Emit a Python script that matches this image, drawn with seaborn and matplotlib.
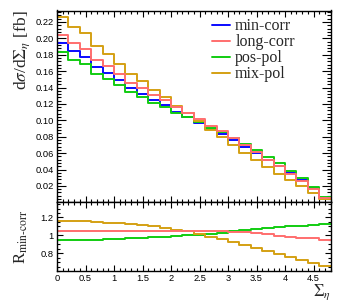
import numpy as np
import pandas as pd
import matplotlib
matplotlib.use("Agg")
import matplotlib.pyplot as plt
import seaborn as sns
from matplotlib.ticker import MultipleLocator

# ---- data ----
bin_edges = [round(0.2 * i, 1) for i in range(25)]
min_corr = [0.1946, 0.1844, 0.1776, 0.1654, 0.1580, 0.1487, 0.1389, 0.1324,
            0.1243, 0.1185, 0.1105, 0.1039, 0.0971, 0.0895, 0.0828, 0.0755,
            0.0678, 0.0596, 0.0515, 0.0441, 0.0352, 0.0267, 0.0169, 0.0056]
long_corr = [0.2047, 0.1940, 0.1868, 0.1740, 0.1662, 0.1563, 0.1460, 0.1390,
             0.1305, 0.1243, 0.1158, 0.1088, 0.1015, 0.0934, 0.0864, 0.0786,
             0.0702, 0.0609, 0.0520, 0.0440, 0.0347, 0.0260, 0.0163, 0.0053]
pos_pol = [0.1833, 0.1741, 0.1682, 0.1571, 0.1509, 0.1428, 0.1342, 0.1287,
           0.1216, 0.1167, 0.1094, 0.1037, 0.0978, 0.0910, 0.0853, 0.0788,
           0.0716, 0.0638, 0.0556, 0.0481, 0.0387, 0.0296, 0.0189, 0.0063]
mix_pol = [0.2261, 0.2143, 0.2060, 0.1905, 0.1804, 0.1688, 0.1563, 0.1475,
           0.1367, 0.1281, 0.1175, 0.1085, 0.0986, 0.0882, 0.0791, 0.0698,
           0.0607, 0.0513, 0.0425, 0.0350, 0.0267, 0.0193, 0.0117, 0.0037]
series_names = ["min-corr", "long-corr", "pos-pol", "mix-pol"]
series_vals = [min_corr, long_corr, pos_pol, mix_pol]
colors = {"min-corr": "#0a0aff", "long-corr": "#ff6e6e",
          "pos-pol": "#11cc11", "mix-pol": "#d4a013"}

sns.set_style("ticks")
plt.rcParams["font.family"] = ["Liberation Sans", "DejaVu Sans"]
plt.rcParams["mathtext.fontset"] = "stix"

rows = []
for name, vals in zip(series_names, series_vals):
    ext = list(vals) + [vals[-1]]
    ref = list(min_corr) + [min_corr[-1]]
    for x, v, r in zip(bin_edges, ext, ref):
        rows.append({"x": x, "y": v, "ratio": v / r, "series": name})
df = pd.DataFrame(rows)

W, H = 349, 307
fig = plt.figure(figsize=(W / 100, H / 100), dpi=100)
left, right = 57 / W, 330.6 / W
axw = (330.6 - 57)
ax1 = fig.add_axes([left, 1 - 202.3 / H, right - left, (202.3 - 10.5) / H])
ax2 = fig.add_axes([left, 1 - 271 / H, right - left, (271 - 202.3) / H])

draw_order = ["min-corr", "pos-pol", "mix-pol", "long-corr"]
for name in draw_order:
    sub = df[df.series == name]
    sns.lineplot(data=sub, x="x", y="y", ax=ax1, color=colors[name],
                 drawstyle="steps-post", estimator=None, sort=False,
                 linewidth=1.4, label=name, legend=False)
for name in ["pos-pol", "mix-pol", "long-corr"]:
    sub = df[df.series == name]
    sns.lineplot(data=sub, x="x", y="ratio", ax=ax2, color=colors[name],
                 drawstyle="steps-post", estimator=None, sort=False,
                 linewidth=1.4, legend=False)

ax1.set_xlim(0, 4.8)
ax1.set_ylim(0, 0.234)
ax2.set_xlim(0, 4.8)
ax2.set_ylim(0.6, 1.37)

for ax in (ax1, ax2):
    for s in ax.spines.values():
        s.set_linewidth(1.0)
        s.set_color("black")
    ax.xaxis.set_major_locator(MultipleLocator(0.5))
    ax.xaxis.set_minor_locator(MultipleLocator(0.1))
    ax.tick_params(which="both", direction="in", top=True, right=True,
                   width=0.8, colors="black", labelsize=6.7, pad=2.5)

ax1.yaxis.set_minor_locator(MultipleLocator(0.004))
ax1.set_yticks(np.arange(0.02, 0.221, 0.02))
ax1.set_yticklabels([f"{v:.2f}" for v in np.arange(0.02, 0.221, 0.02)])
ax1.tick_params(axis="y", which="major", length=6.5)
ax1.tick_params(axis="y", which="minor", length=3.2)
ax1.tick_params(axis="x", which="major", length=4.0, labelbottom=False)
ax1.tick_params(axis="x", which="minor", length=2.2)

ax2.set_yticks([0.8, 1.0, 1.2])
ax2.set_yticklabels(["0.8", "1", "1.2"])
ax2.yaxis.set_minor_locator(MultipleLocator(0.05))
ax2.set_xticks(np.arange(0, 4.51, 0.5))
ax2.set_xticklabels(["0", "0.5", "1", "1.5", "2", "2.5", "3", "3.5", "4", "4.5"])
ax2.tick_params(axis="y", which="major", length=4.5)
ax2.tick_params(axis="y", which="minor", length=2.2)
ax2.tick_params(axis="x", which="major", length=4.0)
ax2.tick_params(axis="x", which="minor", length=2.2)

serif = ["Liberation Serif", "DejaVu Serif"]
ax1.set_xlabel("")
ax2.set_xlabel("")
ax1.set_ylabel(r"d$\sigma$/d$\Sigma_{\eta}$ [fb]", family=serif, fontsize=12.5,
               loc="top")
ax1.yaxis.set_label_coords((32 - 57) / axw, 1.0)
ax2.set_ylabel(r"R$_{\mathrm{min\text{-}corr}}$", family=serif, fontsize=12)
ax2.yaxis.set_label_coords((30 - 57) / axw, 0.5)
ax2.text(1.0, -0.16, r"$\Sigma_{\eta}$", transform=ax2.transAxes, ha="right",
         va="top", fontsize=12)

handles = [plt.Line2D([], [], color=colors[n], lw=1.4) for n in series_names]
leg = ax1.legend(handles, series_names, loc="upper left",
                 bbox_to_anchor=(212 / W, 1 - 18.5 / H), bbox_transform=fig.transFigure,
                 frameon=False, prop={"family": serif, "size": 11.5},
                 handlelength=1.15, handletextpad=0.3, labelspacing=0.0,
                 borderpad=0, borderaxespad=0)

fig.savefig("out.png", dpi=100)
